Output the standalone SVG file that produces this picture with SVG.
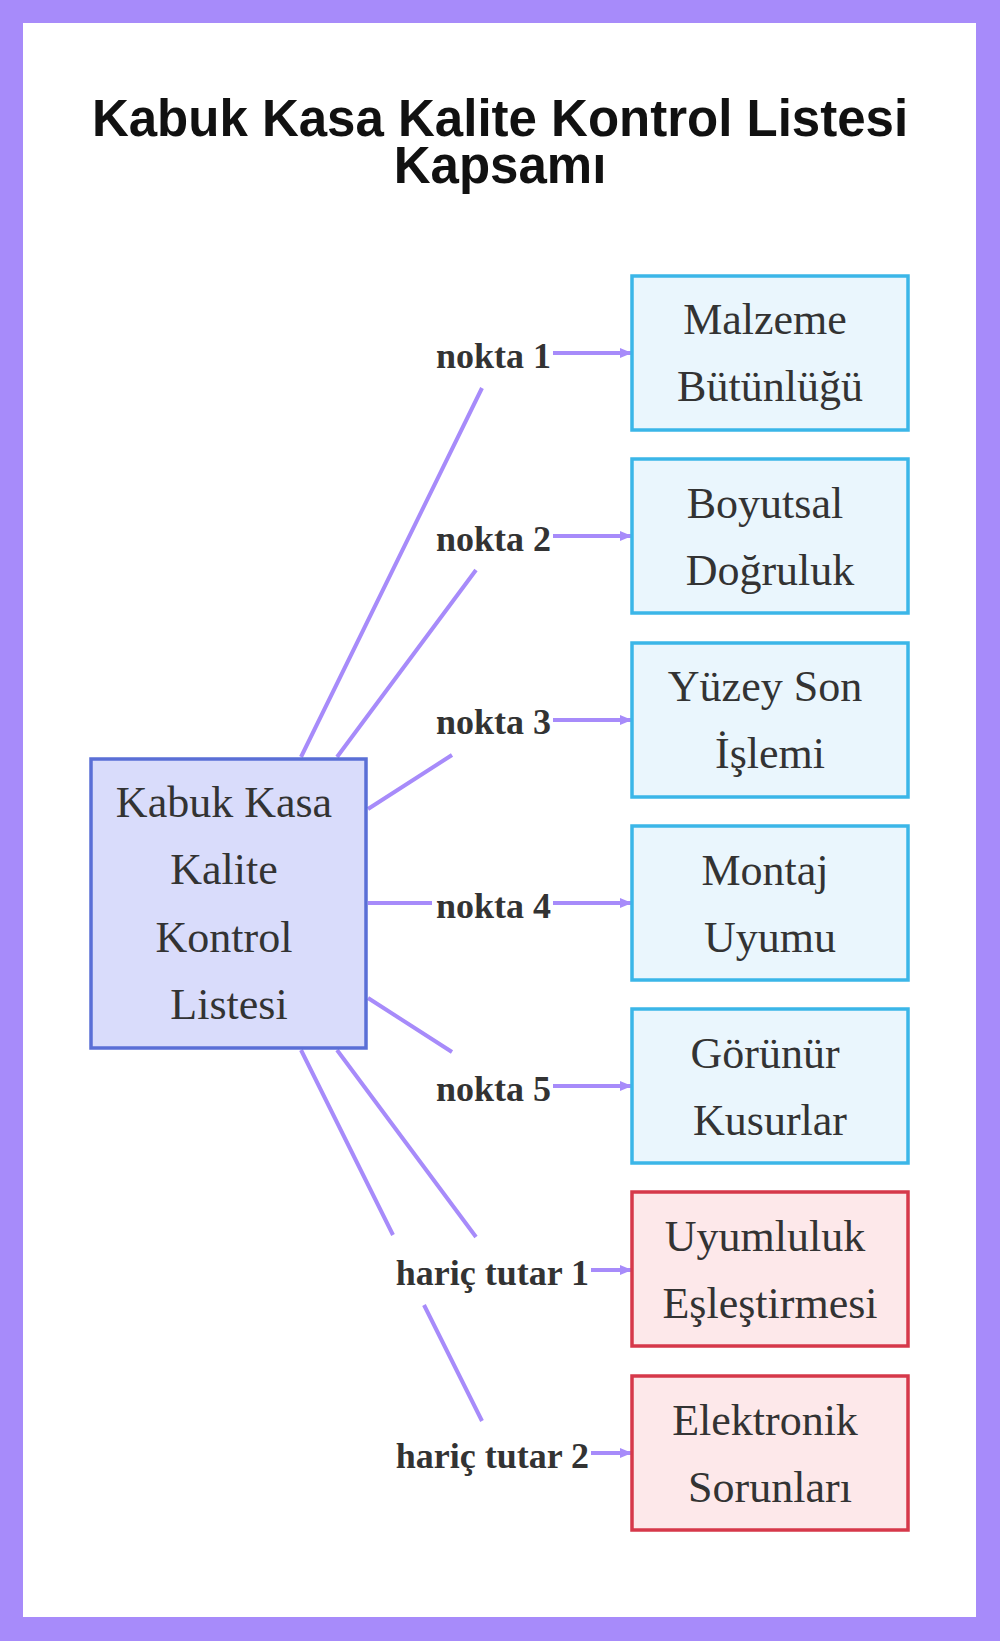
<svg xmlns="http://www.w3.org/2000/svg" width="1000" height="1641" viewBox="0 0 1000 1641">
<style>
.t{font-family:"Liberation Serif",serif;font-size:44px;fill:#333;text-anchor:middle}
.l{font-family:"Liberation Serif",serif;font-size:36px;font-weight:bold;fill:#333;text-anchor:end}
.b{fill:#eaf6fd;stroke:#3bb6e8;stroke-width:3.5}
.r{fill:#fde8ea;stroke:#d6384a;stroke-width:3.5}
.c{stroke:#a78bfa;stroke-width:4;fill:none}
.ar{marker-end:url(#a)}
</style>
<defs><marker id="a" markerWidth="12" markerHeight="10" refX="11" refY="5" orient="auto" markerUnits="userSpaceOnUse"><path d="M0,0L12,5L0,10z" fill="#a78bfa"/></marker></defs>
<rect width="1000" height="1641" fill="#a78bfa"/>
<rect x="23" y="23" width="953" height="1594" fill="#fff"/>
<text x="500" y="136" font-family="Liberation Sans,sans-serif" font-size="51" font-weight="bold" fill="#111" text-anchor="middle">Kabuk Kasa Kalite Kontrol Listesi</text>
<text x="500" y="183" font-family="Liberation Sans,sans-serif" font-size="51" font-weight="bold" fill="#111" text-anchor="middle">Kapsamı</text>
<g id="connectors">
<path class="c" d="M301,757L482,388M337,757L476,570M368,809L452,755M368,903L432,903M368,998L452,1052M337,1050L476,1237M301,1050L393,1235M424,1305L482,1421"/>
<path class="c ar" d="M553,353H631"/><path class="c ar" d="M553,536H631"/><path class="c ar" d="M553,720H631"/><path class="c ar" d="M553,903H631"/><path class="c ar" d="M553,1086H631"/><path class="c ar" d="M591,1270H631"/><path class="c ar" d="M591,1453H631"/>
</g>
<g id="center"><rect x="91" y="759" width="275" height="289" fill="#d9dcfb" stroke="#5a6fd6" stroke-width="3.5"/>
<text class="t" x="224" y="817">Kabuk Kasa</text><text class="t" x="224" y="884">Kalite</text><text class="t" x="224" y="952">Kontrol</text><text class="t" x="229" y="1019">Listesi</text></g>
<g id="labels">
<text class="l" x="551" y="368">nokta 1</text><text class="l" x="551" y="551">nokta 2</text><text class="l" x="551" y="734">nokta 3</text><text class="l" x="551" y="918">nokta 4</text><text class="l" x="551" y="1101">nokta 5</text><text class="l" x="589" y="1285">hariç tutar 1</text><text class="l" x="589" y="1468">hariç tutar 2</text>
</g>
<g id="n1"><rect class="b" x="632" y="276" width="276" height="154"/><text class="t" x="765" y="334">Malzeme</text><text class="t" x="770" y="401">Bütünlüğü</text></g>
<g id="n2"><rect class="b" x="632" y="459" width="276" height="154"/><text class="t" x="765" y="518">Boyutsal</text><text class="t" x="770" y="585">Doğruluk</text></g>
<g id="n3"><rect class="b" x="632" y="643" width="276" height="154"/><text class="t" x="765" y="701">Yüzey Son</text><text class="t" x="770" y="768">İşlemi</text></g>
<g id="n4"><rect class="b" x="632" y="826" width="276" height="154"/><text class="t" x="765" y="885">Montaj</text><text class="t" x="770" y="952">Uyumu</text></g>
<g id="n5"><rect class="b" x="632" y="1009" width="276" height="154"/><text class="t" x="765" y="1068">Görünür</text><text class="t" x="770" y="1135">Kusurlar</text></g>
<g id="n6"><rect class="r" x="632" y="1192" width="276" height="154"/><text class="t" x="765" y="1251">Uyumluluk</text><text class="t" x="770" y="1318">Eşleştirmesi</text></g>
<g id="n7"><rect class="r" x="632" y="1376" width="276" height="154"/><text class="t" x="765" y="1435">Elektronik</text><text class="t" x="770" y="1502">Sorunları</text></g>
</svg>
